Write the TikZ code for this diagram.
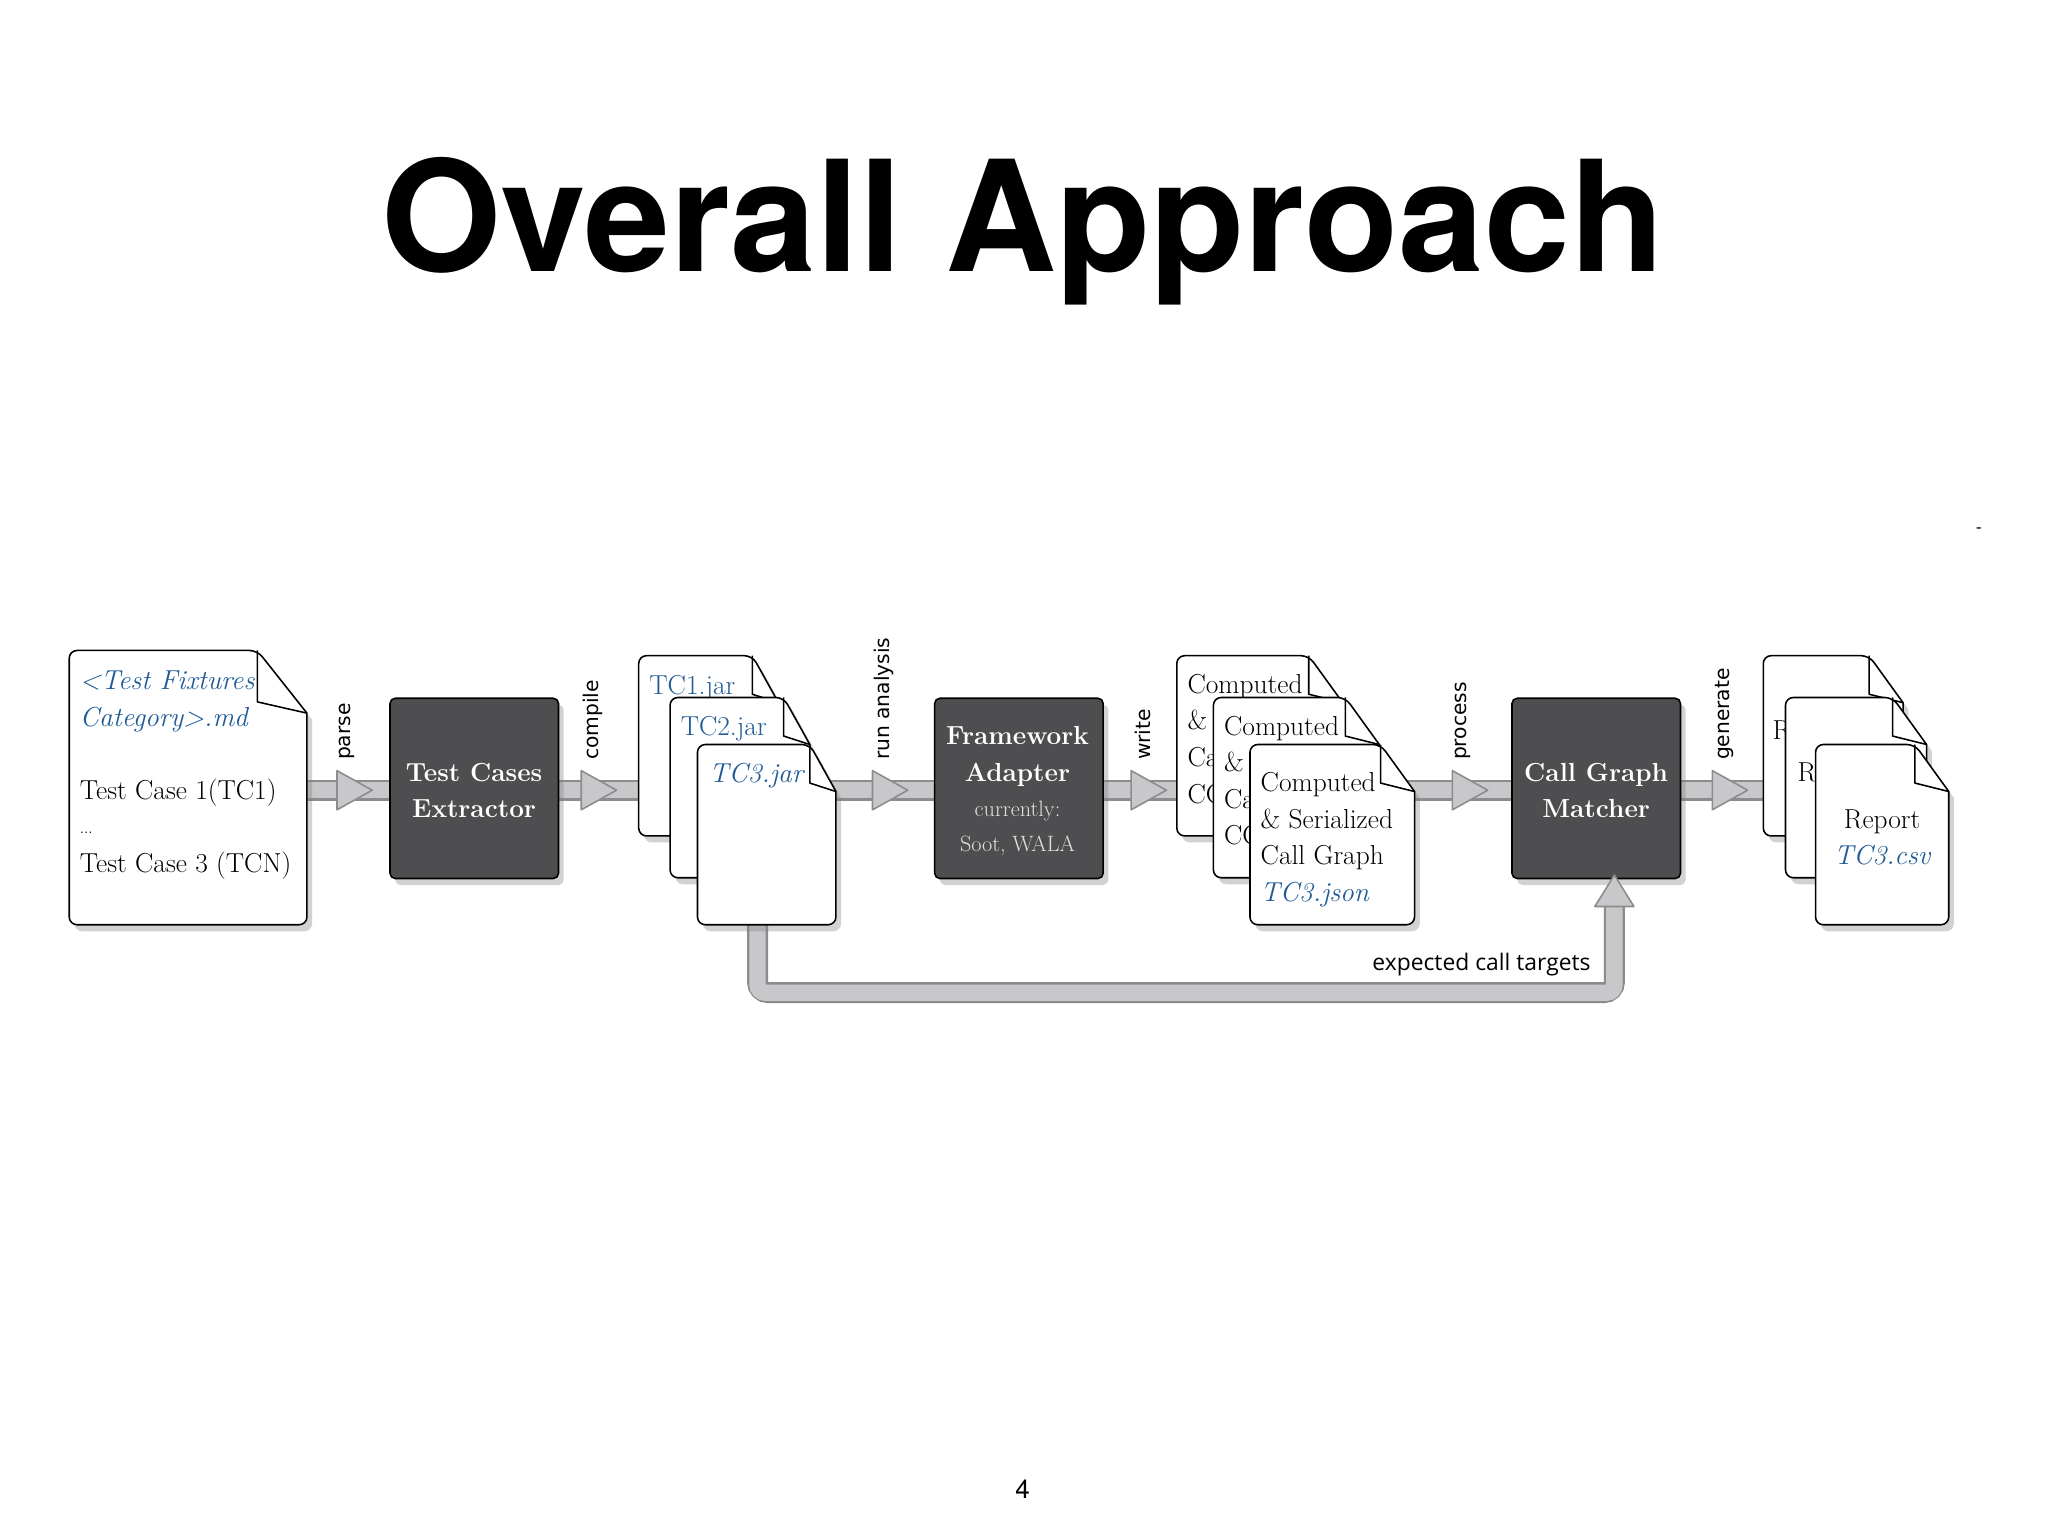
\documentclass[tikz,border=0pt]{standalone}
\usepackage{fontspec}
\newfontfamily\heros{TeX Gyre Heros}
\newfontfamily\dejavu{DejaVu Sans}
\newfontfamily\opens{Open Sans}
\usetikzlibrary{shadows}
\definecolor{boxfill}{HTML}{4E4E50}
\definecolor{bandfill}{HTML}{C8C8CA}
\definecolor{bandline}{HTML}{8C8C8E}
\definecolor{docblue}{HTML}{1F5A96}
\newcommand\dfont{\fontsize{21}{28}\selectfont}
\tikzset{
  docline/.style={fill=white,draw=black,line width=1.2pt,rounded corners=6pt,
    drop shadow={shadow xshift=4pt,shadow yshift=-5pt,opacity=.35}},
  foldline/.style={draw=black,line width=1.2pt},
  box/.style={fill=boxfill,draw=black,line width=1.2pt,rounded corners=4pt,
    minimum width=129pt,minimum height=138pt,anchor=north west,
    drop shadow={shadow xshift=4pt,shadow yshift=-5pt,opacity=.35}},
  txt/.style={font=\dfont,inner sep=0,anchor=base west},
  itxt/.style={txt,text=docblue,font=\dfont\itshape},
  boxt/.style={font=\fontsize{20}{28}\selectfont\bfseries,text=white,inner sep=0,anchor=base},
  boxs/.style={font=\fontsize{17}{26}\selectfont,text=black!12,inner sep=0,anchor=base},
  lab/.style={font=\dejavu\fontsize{15.5}{17}\selectfont,rotate=90,anchor=west,inner sep=0},
  bandout/.style={line width=16pt,draw=bandline,rounded corners=8pt},
  bandin/.style={line width=12.5pt,draw=bandfill,rounded corners=6pt},
  tri/.style={fill=bandfill,draw=bandline,line width=1.2pt,line join=round},
}
% doc: name, x1, y1, x2, y2, fold width, fold height
\newcommand\mydoc[7]{%
  \node[inner sep=0,minimum width=#4pt-#2pt,minimum height=#5pt-#3pt,anchor=north west] (#1) at (#2,#3) {};
  \path[docline] (#2,#3) -- (#4-#6,#3) {[sharp corners] -- (#4,#3+#7)} -- (#4,#5) -- (#2,#5) -- cycle;
  \draw[foldline,line join=round] (#4-#6,#3) -- (#4-#6,#3+#7*0.82) -- (#4,#3+#7);
}
\begin{document}
\begin{tikzpicture}[x=1pt,y=-1pt]
\useasboundingbox (0,0) rectangle (1568,1176);
\fill[white] (0,0) rectangle (1568,1176);
\node[font=\heros\bfseries\fontsize{118}{120}\selectfont,inner sep=0,anchor=base] (title) at (783,208) {Overall Approach};
\node[font=\heros\fontsize{14}{16}\selectfont,inner sep=0] (dash) at (1515,406) {-};
\node[font=\heros\fontsize{20}{22}\selectfont,inner sep=0,anchor=base] (page) at (783,1147) {4};

% bands
\coordinate (bs) at (235,605); \coordinate (be) at (1350,605);
\coordinate (fb1) at (580,700); \coordinate (fb2) at (580,760);
\coordinate (fb3) at (1236,760); \coordinate (fb4) at (1236,692);
\draw[bandout] (bs) -- (be);
\draw[bandout] (fb1) -- (fb2) -- (fb3) -- (fb4);
\draw[bandin] (bs) -- (be);
\draw[bandin] (fb1) -- (fb2) -- (fb3) -- (fb4);

% doc 1
\mydoc{src}{53}{498}{235}{708}{38}{48}
\node[itxt] at (61,528) {<Test Fixtures};
\node[itxt] at (61,556) {Category>.md};
\node[txt] at (61,612) {Test Case 1(TC1)};
\node[txt,font=\fontsize{12}{14}\selectfont] at (61,638) {...};
\node[txt] at (61,668) {Test Case 3 (TCN)};

% extractor
\node[box] (tce) at (298,534) {};
\node[boxt] at (363,598) {Test Cases};
\node[boxt] at (363,626) {Extractor};

% jars
\mydoc{tc1}{489}{502}{596}{640}{20}{36}
\node[txt,text=docblue] at (497,532) {TC1.jar};
\mydoc{tc2}{513}{534}{620}{672}{20}{36}
\node[txt,text=docblue] at (521,563) {TC2.jar};
\mydoc{tc3}{534}{570}{640}{708}{20}{36}
\node[itxt] at (543,599) {TC3.jar};

% framework adapter
\node[box] (fa) at (715,534) {};
\node[boxt] at (779,570) {Framework};
\node[boxt] at (779,598) {Adapter};
\node[boxs] at (779,625) {currently:};
\node[boxs] at (779,652) {Soot, WALA};

% json docs
\mydoc{cg1}{901}{502}{1028}{640}{26}{36}
\node[txt,align=left,anchor=north west] at (909,516) {Computed\\\& Serialized\\Call Graph\\CG};
\mydoc{cg2}{929}{534}{1056}{672}{26}{36}
\node[txt,align=left,anchor=north west] at (937,548) {Computed\\\& Serialized\\Call Graph\\CG};
\mydoc{cg3}{957}{570}{1083}{708}{26}{36}
\node[txt] at (965,606) {Computed};
\node[txt] at (965,634) {\& Serialized};
\node[txt] at (965,662) {Call Graph};
\node[itxt] at (965,690) {TC3.json};

% matcher
\node[box] (cgm) at (1157,534) {};
\node[boxt] at (1222,598) {Call Graph};
\node[boxt] at (1222,626) {Matcher};

% reports
\mydoc{r1}{1350}{502}{1457}{640}{26}{36}
\node[txt] at (1357,566) {Report};
\mydoc{r2}{1367}{534}{1475}{672}{26}{36}
\node[txt] at (1376,598) {Report};
\mydoc{r3}{1390}{570}{1492}{708}{26}{36}
\node[txt,anchor=base] at (1441,634) {Report};
\node[itxt,anchor=base] at (1441,662) {TC3.csv};

% arrow heads
\foreach \x in {258,445,668,866,1112,1311}
  \draw[tri] (\x,590) -- (\x,620) -- (\x+27,605) -- cycle;
\draw[tri] (1221,694) -- (1251,694) -- (1236,670) -- cycle;

% labels
\node[lab] at (266,582) {parse};
\node[lab] at (454,582) {compile};
\node[lab] at (677,582) {run analysis};
\node[lab] at (875,582) {write};
\node[lab] at (1120,582) {process};
\node[lab] at (1320,582) {generate};
\node[font=\opens\fontsize{17.5}{20}\selectfont,inner sep=0,anchor=base east] at (1218,743) {expected call targets};
\end{tikzpicture}
\end{document}
